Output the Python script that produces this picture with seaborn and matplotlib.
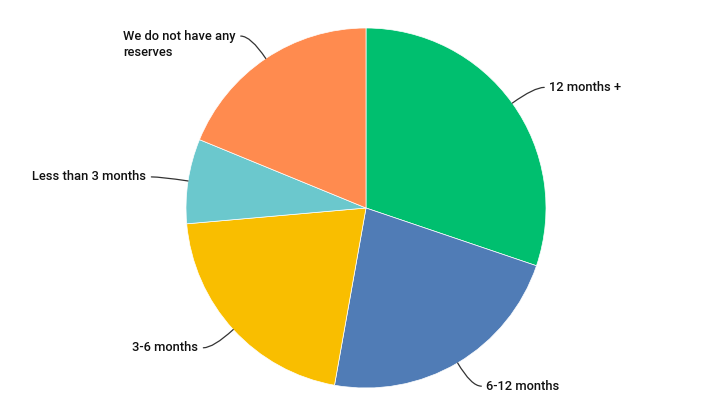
import numpy as np
import matplotlib
matplotlib.use("Agg")
import matplotlib.pyplot as plt
import seaborn as sns

# data (percent of respondents)
labels = ["12 months +", "6-12 months", "3-6 months", "Less than 3 months",
          "We do not have any\nreserves"]
values = [30.2, 22.6, 20.8, 7.6, 18.8]
colors = ["#00BF6F", "#507CB6", "#F9BE00", "#6BC8CD", "#FF8B4F"]

sns.set_theme(style="white")
plt.rcParams['font.family'] = ['Roboto', 'DejaVu Sans']

fig = plt.figure(figsize=(7.11, 4.17), dpi=100)
ax = fig.add_axes([0, 0, 1, 1])

cx, cy, r = 366, 209, 180
wedges, _ = ax.pie(values, colors=colors, startangle=90, counterclock=False,
                   center=(cx, cy), radius=r, frame=True,
                   wedgeprops=dict(edgecolor='white', linewidth=0.5))
ax.set_xlim(0, 711)
ax.set_ylim(0, 417)
ax.set_aspect('equal')
ax.axis('off')

# small vertical nudge for the two-line label
dys = [0, 0, 0, 0, -8]
for w, lab, dy in zip(wedges, labels, dys):
    deg = (w.theta1 + w.theta2) / 2
    ang = np.deg2rad(deg)
    right = np.cos(ang) > 0
    sx = 1 if right else -1
    x0, y0 = cx + r * np.cos(ang), cy + r * np.sin(ang)
    # elbow point on the ray, then run out horizontally
    x1 = cx + 1.15 * r * np.cos(ang) + sx * 10
    y1 = cy + 1.15 * r * np.sin(ang)
    ax.annotate("", xy=(x0, y0), xytext=(x1, y1),
                arrowprops=dict(arrowstyle='-', color='#333333', lw=0.9,
                                shrinkA=0, shrinkB=0,
                                connectionstyle=f'angle3,angleA=0,angleB={deg:.1f}'))
    ax.text(x1 + sx * 5, y1 + dy, lab,
            ha='left' if right else 'right', va='center',
            fontsize=9.3, fontweight='medium', color='#111111',
            multialignment='left', linespacing=1.3)

fig.savefig("out.png", dpi=100, facecolor='white')
